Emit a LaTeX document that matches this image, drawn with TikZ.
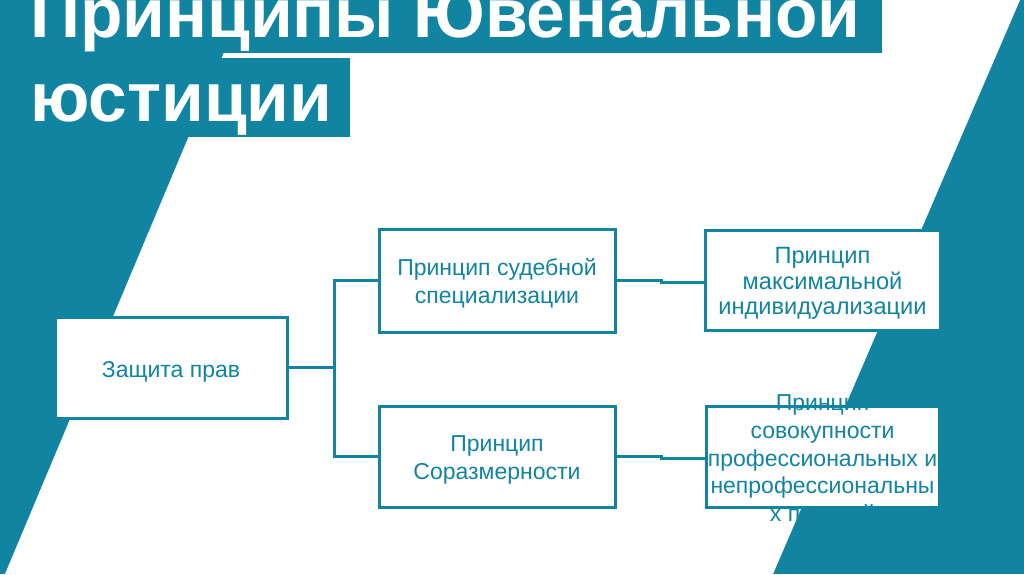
\documentclass[tikz,border=0pt]{standalone}
\usepackage{fontspec}
\setmainfont{Liberation Sans}
\usetikzlibrary{calc}
\definecolor{teal1}{HTML}{1184A1}
\begin{document}
\begin{tikzpicture}[x=1pt,y=-1pt,
  title/.style={text=white, inner sep=0pt, font=\fontsize{69.5}{80}\selectfont\bfseries},
  box/.style={draw=teal1, fill=white, line width=3pt, inner sep=0pt},
  txt/.style={text=teal1, align=center, inner sep=0pt, font=\fontsize{23}{28}\selectfont},
  conn/.style={draw=teal1, line width=3pt}]
\useasboundingbox (0,0) rectangle (1024,574);
\clip (0,0) rectangle (1024,574);
% background
\fill[teal1] (0,0) rectangle (1024,574);
\fill[white] (246,0) -- (1020,0) -- (773,574) -- (5,574) -- cycle;
% title
\fill[teal1] (0,0) rectangle (882,53);
\fill[teal1] (0,58) rectangle (350,137);
\node[title, anchor=base west] (t1) at (30,37) {Принципы Ювенальной};
\node[title, anchor=base west] (t2) at (30,121) {юстиции};
% boxes
\node[box, minimum width=232pt, minimum height=101pt] (zp) at (171,367.5) {};
\node[box, minimum width=236pt, minimum height=103pt] (s1) at (497,280.5) {};
\node[box, minimum width=236pt, minimum height=101pt] (s2) at (497,456.5) {};
\node[box, minimum width=235pt, minimum height=100pt] (m1) at (822.5,280) {};
\node[box, minimum width=233pt, minimum height=101pt] (m2) at (822.5,456.5) {};
% connectors
\coordinate (j) at ($(zp.east)+(46,0)$);
\draw[conn] (zp.east) -- (j);
\draw[conn] (s1.west) -| (j) |- (s2.west);
\draw[conn] (s1.east) -- ++(45,0) -- ++(0,2) coordinate (b1) -- (b1 -| m1.west);
\draw[conn] (s2.east) -- ++(45,0) -- ++(0,2) coordinate (b2) -- (b2 -| m2.west);
% texts
\node[txt] (tzp) at ($(zp.center)+(0,4)$) {Защита прав};
\node[txt] (ts1) at ($(s1.center)+(0,3)$) {Принцип судебной\\специализации};
\node[txt] (ts2) at ($(s2.center)+(0,3)$) {Принцип\\Соразмерности};
\node[txt, font=\fontsize{23.6}{25.5}\selectfont] (tm1) at ($(m1.center)+(0,3.5)$) {Принцип\\максимальной\\индивидуализации};
\node[txt, font=\fontsize{23}{27.7}\selectfont] (tm2) at ($(m2.center)+(0,4)$) {Принцип\\совокупности\\профессиональных и\\непрофессиональны\\х позиций};
\end{tikzpicture}
\end{document}
